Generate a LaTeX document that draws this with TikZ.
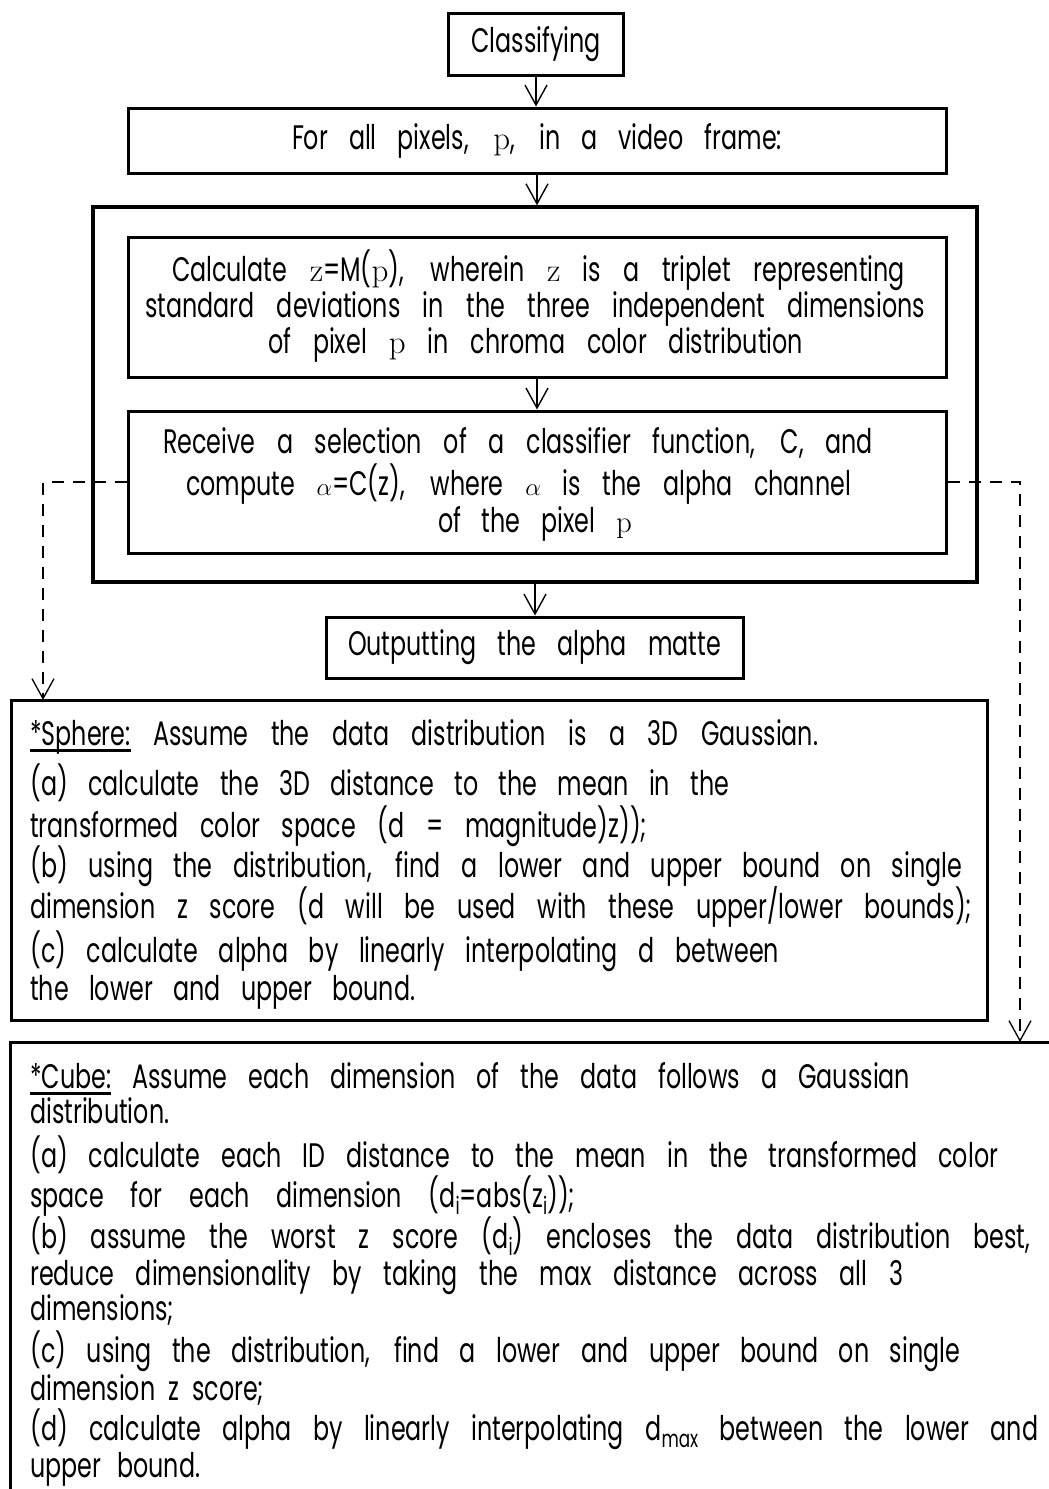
\documentclass[tikz,border=0pt]{standalone}
\usepackage{fontspec}
\newfontfamily\gt[FakeStretch=0.7]{Poppins}
\usetikzlibrary{arrows.meta}
\newcommand\fitw[2]{\makebox[#1pt][s]{#2}}
\newsavebox\ulbox
\newcommand\uln[1]{\sbox\ulbox{#1}\rlap{\rule[-6.5pt]{\wd\ulbox}{2.2pt}}\usebox\ulbox}
\newcommand\ser[1]{\smash{\fontsize{33}{33}\selectfont\rmfamily #1}}
\newcommand\sers[1]{\smash{\fontsize{31}{31}\selectfont\rmfamily #1}}
\newcommand\alp{\smash{\fontsize{40}{40}\selectfont$\alpha$}}
\newcommand\sub[1]{\raisebox{-7pt}{\fontsize{24}{24}\selectfont #1}}
\begin{document}
\begin{tikzpicture}[x=1pt,y=-1pt,
  box/.style={draw, line width=3pt, inner sep=0pt},
  txt/.style={font=\gt\fontsize{34}{36}\selectfont, inner sep=0pt},
  arr/.style={line width=1.4pt, -{Straight Barb[length=20pt,width=22pt,line width=1.4pt]}},
  dashline/.style={line width=1.3pt, dash pattern=on 12pt off 9pt, -{Straight Barb[length=20pt,width=22pt,line width=1.3pt]}}
]
\useasboundingbox (0,0) rectangle (1049,1489);
% boxes
\node[box, txt, minimum width=175pt, minimum height=62pt] (cls) at (536,44) {Classifying};
\node[box, txt, minimum width=818pt, minimum height=65pt] (fa) at (537,140.5) {\fitw{490}{For all pixels, \ser{p}, in a video frame:}};
\node[box, line width=3.5pt, minimum width=884pt, minimum height=375pt] (loop) at (535,394.5) {};
\node[box, minimum width=818pt, minimum height=140pt] (calc) at (537,307) {};
\node[box, minimum width=818pt, minimum height=142pt] (recv) at (537,482) {};
\node[box, txt, minimum width=417pt, minimum height=61pt] (out) at (534.5,647.5) {\fitw{373}{Outputting the alpha matte}};
\node[box, minimum width=976pt, minimum height=320pt] (sph) at (499,860) {};
\node[box, minimum width=1060pt, minimum height=470pt] (cube) at (540,1277) {};
% calculate box text
\node[txt, anchor=base] (c1) at (538.5,281) {\fitw{733}{Calculate \ser{z}=M(\ser{p}), wherein \ser{z} is a triplet representing}};
\node[txt, anchor=base] (c2) at (535,317) {\fitw{780}{standard deviations in the three independent dimensions}};
\node[txt, anchor=base] (c3) at (535.5,353) {\fitw{535}{of pixel \ser{p} in chroma color distribution}};
% receive box text
\node[txt, anchor=base] (r1) at (518,453) {\fitw{710}{Receive a selection of a classifier function, C, and}};
\node[txt, anchor=base] (r2) at (518.5,495) {\fitw{665}{compute \alp=C(z), where \alp{} is the alpha channel}};
\node[txt, anchor=base] (r3) at (535,532) {\fitw{194}{of the pixel \sers{p}}};
% sphere text
\node[txt, anchor=base west] (s1) at (30,745) {\fitw{788}{\uln{*Sphere:} Assume the data distribution is a 3D Gaussian.}};
\node[txt, anchor=base west] (s2) at (30,795) {\fitw{699}{(a) calculate the 3D distance to the mean in the}};
\node[txt, anchor=base west] (s3) at (30,837) {\fitw{617}{transformed color space (d = magnitude)z));}};
\node[txt, anchor=base west] (s4) at (30,877) {\fitw{932}{(b) using the distribution, find a lower and upper bound on single}};
\node[txt, anchor=base west] (s5) at (30,918) {\fitw{942}{dimension z score (d will be used with these upper/lower bounds);}};
\node[txt, anchor=base west] (s6) at (30,962) {\fitw{749}{(c) calculate alpha by linearly interpolating d between}};
\node[txt, anchor=base west] (s7) at (30,1000) {\fitw{385}{the lower and upper bound.}};
% cube text
\node[txt, anchor=base west] (k1) at (30,1088) {\fitw{880}{\uln{*Cube:} Assume each dimension of the data follows a Gaussian}};
\node[txt, anchor=base west] (k2) at (30,1123) {distribution.};
\node[txt, anchor=base west] (k3) at (30,1167) {\fitw{968}{(a) calculate each ID distance to the mean in the transformed color}};
\node[txt, anchor=base west] (k4) at (30,1207) {\fitw{545}{space for each dimension (d\sub{i}=abs(z\sub{i}));}};
\node[txt, anchor=base west] (k5) at (30,1248) {\fitw{1000}{(b) assume the worst z score (d\sub{i}) encloses the data distribution best,}};
\node[txt, anchor=base west] (k6) at (30,1285) {\fitw{873}{reduce dimensionality by taking the max distance across all 3}};
\node[txt, anchor=base west] (k7) at (30,1320) {dimensions;};
\node[txt, anchor=base west] (k8) at (30,1362) {\fitw{930}{(c) using the distribution, find a lower and upper bound on single}};
\node[txt, anchor=base west] (k9) at (30,1400) {\fitw{234}{dimension z score;}};
\node[txt, anchor=base west] (k10) at (30,1440) {\fitw{1008}{(d) calculate alpha by linearly interpolating d\sub{max} between the lower and}};
\node[txt, anchor=base west] (k11) at (30,1477) {\fitw{170}{upper bound.}};
% connectors
\draw[arr] (cls.south) -- (cls.south |- fa.north);
\draw[arr] (fa.south) -- (fa.south |- loop.north);
\draw[arr] (calc) -- (recv);
\draw[arr] (loop.south) -- (loop.south |- out.north);
\coordinate (lt) at (43,700);
\coordinate (rt) at (1020,1042);
\draw[dashline] (recv.west) -| (lt);
\draw[dashline] (recv.east) -| (rt);
\end{tikzpicture}
\end{document}
